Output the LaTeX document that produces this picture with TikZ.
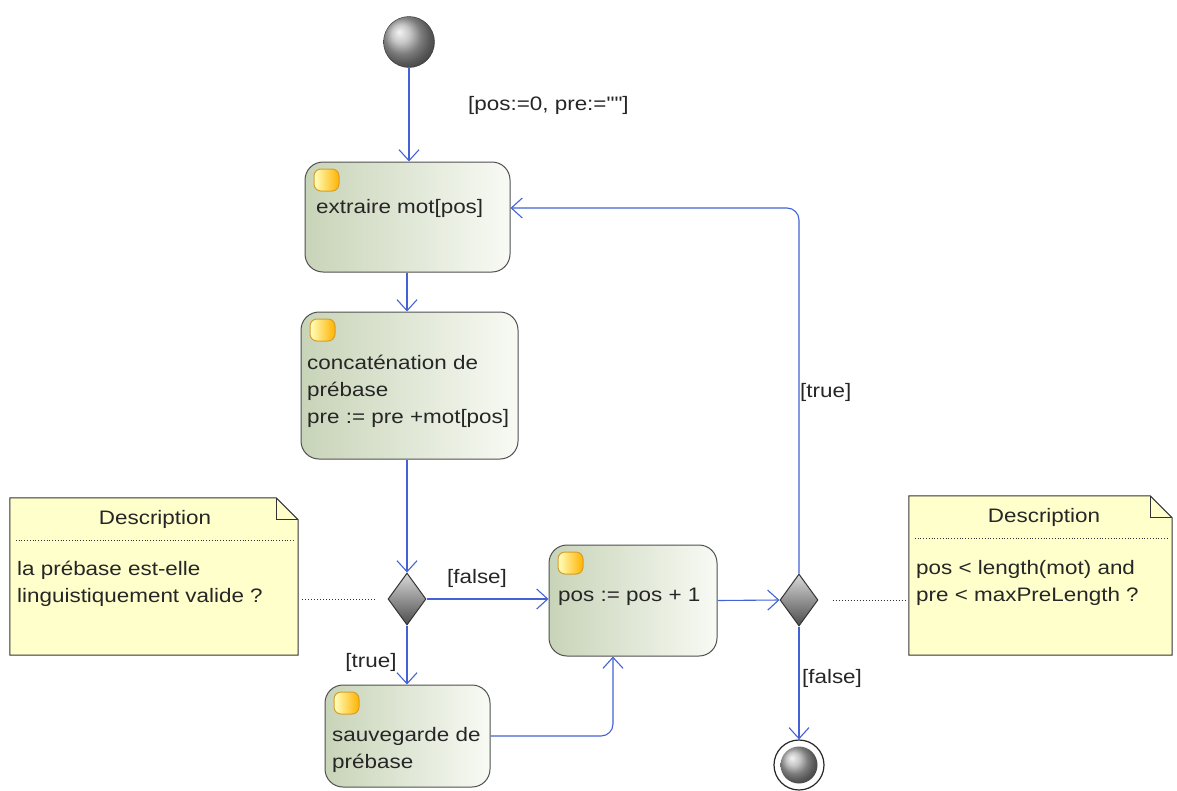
\documentclass[tikz,border=0pt]{standalone}
\usepackage{fontspec}
\setmainfont{Liberation Sans}[FakeStretch=1.15,Ligatures=TeXOff]
\usetikzlibrary{arrows.meta,shapes,positioning,calc}
\definecolor{flowblue}{RGB}{66,98,214}
\definecolor{actleft}{RGB}{200,212,184}
\definecolor{actright}{RGB}{248,250,244}
\definecolor{notefill}{RGB}{255,255,204}
\definecolor{edgegray}{RGB}{80,80,80}
\definecolor{iconedge}{RGB}{214,158,40}
\tikzstyle{flow}=[draw=flowblue,line width=1.1pt,->,>={Straight Barb[length=11pt,width=20pt]}]
\tikzstyle{act}=[rectangle,draw=edgegray,line width=1pt,rounded corners=18pt,left color=actleft,right color=actright]
\tikzstyle{icon}=[rectangle,draw=iconedge,line width=1pt,rounded corners=7pt,left color=yellow!25,right color=orange!60!yellow,minimum width=25pt,minimum height=22pt]
\tikzstyle{choice}=[diamond,draw=black!80,line width=1pt,top color=black!15,bottom color=black!70,minimum width=38pt,minimum height=52pt]
\tikzstyle{note}=[rectangle]
\tikzstyle{lbl}=[text=black!85]

\begin{document}
\begin{tikzpicture}[x=1pt,y=-1pt,every node/.style={inner sep=0,font=\fontsize{19.5}{27}\selectfont}]
\useasboundingbox (0,0) rectangle (1177,790);
% start and end
\node[circle,draw=black!80,ball color=gray!60,minimum size=51pt] (start) at (409,42) {};
\node[circle,draw=black!85,line width=1.2pt,fill=white,minimum size=50pt] (stop) at (799,765) {};
\node[circle,ball color=gray!60,minimum size=37pt] (stopin) at (stop) {};
% actions
\node[act,minimum width=205pt,minimum height=110pt] (extraire) at (407.5,217) {};
\node[act,minimum width=217pt,minimum height=147pt] (concat) at (409.5,385.5) {};
\node[act,minimum width=168pt,minimum height=111pt] (pos) at (633,600.5) {};
\node[act,minimum width=165pt,minimum height=102pt] (sauve) at (407.5,736) {};
\foreach \b in {extraire,concat,pos,sauve}
  \node[icon,below right=7pt and 9pt of \b.north west] (\b-icon) {};
\node[lbl,anchor=west] (extraire-txt) at (316,208) {extraire mot[pos]};
\node[lbl,anchor=west,align=left] (concat-txt) at (307,391.5) {concaténation de\\prébase\\pre := pre +mot[pos]};
\node[lbl,anchor=west] (pos-txt) at (558,597) {pos := pos + 1};
\node[lbl,anchor=west,align=left] (sauve-txt) at (332,750) {sauvegarde de\\prébase};
% decisions
\node[choice] (d1) at (407,599) {};
\node[choice] (d2) at (799,600) {};
% notes
\node[note,minimum width=288pt,minimum height=157pt] (note1) at (154,576.5) {};
\node[note,minimum width=263pt,minimum height=159pt] (note2) at (1040.5,575.5) {};
\foreach \n in {note1,note2}{
  \filldraw[fill=notefill,draw=black!80,line width=1pt] (\n.south west) -- (\n.north west)
    -- ([xshift=-22pt]\n.north east) -- ([yshift=-22pt]\n.north east) -- (\n.south east) -- cycle;
  \draw[black!80,line width=1pt] ([xshift=-22pt]\n.north east) |- ([yshift=-22pt]\n.north east);
  \draw[black!80,dotted,line width=0.8pt] ([xshift=6pt,yshift=-43pt]\n.north west) -- ([xshift=-5pt,yshift=-43pt]\n.north east);
}
\node[lbl] (desc1) at (155,519) {Description};
\node[lbl,anchor=west,align=left] (note1-txt) at (17,583.5) {la prébase est-elle\\linguistiquement valide ?};
\node[lbl] (desc2) at (1044,517) {Description};
\node[lbl,anchor=west,align=left] (note2-txt) at (916,582.5) {pos < length(mot) and\\pre < maxPreLength ?};
\draw[black!80,dotted,line width=1pt,shorten <=4pt,shorten >=13pt] (note1.east |- d1.west) -- (d1.west);
\draw[black!80,dotted,line width=1pt,shorten <=14pt,shorten >=4pt] (d2.east) -- (d2.east -| note2.west);
% flows
\draw[flow] (start.south) -- (start.south |- extraire.north);
\node[lbl,anchor=west] (init-lbl) at (468,105) {[pos:=0, pre:=""]};
\draw[flow] (d1 |- extraire.south) -- (d1 |- concat.north);
\draw[flow] (d1 |- concat.south) -- (d1.north);
\draw[flow] (d1.east) -- (d1.east -| pos.west);
\node[lbl] (false1) at (477,578) {[false]};
\draw[flow] (d1.south) -- (d1 |- sauve.north);
\node[lbl] (true1) at (371,662) {[true]};
\draw[flow,rounded corners=12pt] (sauve.east) -| ([xshift=-20pt]pos.south);
\draw[flow] (pos.east) -- (d2.west);
\draw[flow,rounded corners=12pt] (d2.north) |- ([yshift=9pt]extraire.east);
\node[lbl,anchor=west] (true2) at (800,392) {[true]};
\draw[flow] (d2.south) -- (stop.north);
\node[lbl] (false2) at (832,678) {[false]};
\end{tikzpicture}
\end{document}
